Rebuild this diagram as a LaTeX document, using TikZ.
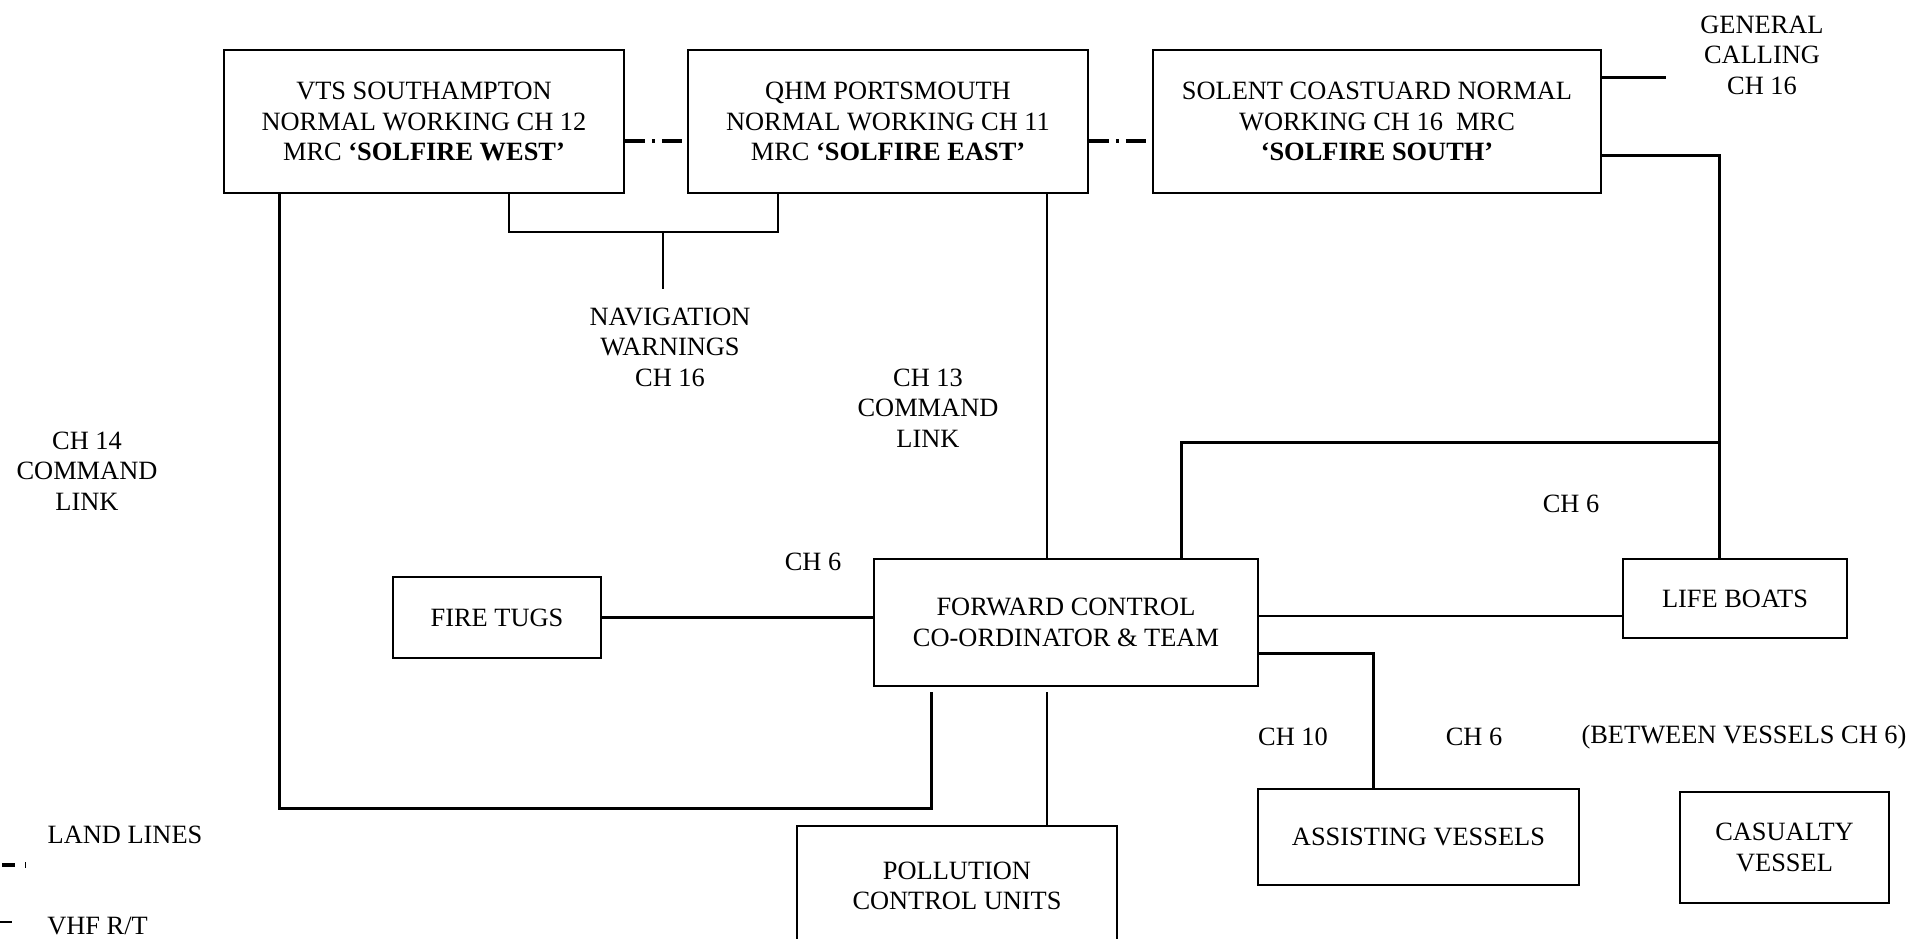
\documentclass[tikz,border=0pt]{standalone}
\usepackage{fontspec}
\setmainfont{Liberation Serif}
\newcommand{\diagfont}{\fontsize{13.2}{15.3}\selectfont}
\begin{document}
\begin{tikzpicture}[x=0.5pt,y=-0.5pt,
  box/.style={draw, line width=0.85pt, rectangle, inner sep=0pt, align=center, font=\diagfont},
  lbl/.style={inner sep=0pt, align=center, font=\diagfont},
  thinln/.style={line width=1pt},
  medln/.style={line width=1.25pt},
  thickln/.style={line width=1.5pt},
  landln/.style={line width=1.6pt, dash pattern=on 10pt off 3.5pt on 1.5pt off 3.5pt}]
\useasboundingbox (0,0) rectangle (1913,938);
\clip (0,0) rectangle (1913,938);

% boxes
\node[box, minimum width=200pt, minimum height=71.5pt] (vts) at (424,121.5)
  {VTS SOUTHAMPTON\\NORMAL WORKING CH 12\\MRC \textbf{‘SOLFIRE WEST’}};
\node[box, minimum width=200pt, minimum height=71.5pt] (qhm) at (888,121.5)
  {QHM PORTSMOUTH\\NORMAL WORKING CH 11\\MRC \textbf{‘SOLFIRE EAST’}};
\node[box, minimum width=224pt, minimum height=71.5pt] (sol) at (1377,121.5)
  {SOLENT COASTUARD NORMAL\\WORKING CH 16\ \ MRC\\\textbf{‘SOLFIRE SOUTH’}};
\node[box, minimum width=192pt, minimum height=63.5pt] (fwd) at (1066,622.5)
  {FORWARD CONTROL\\CO-ORDINATOR \& TEAM};
\node[box, minimum width=104pt, minimum height=40.5pt] (tugs) at (497,617.5) {FIRE TUGS};
\node[box, minimum width=112pt, minimum height=39.5pt] (lb) at (1735,598.5) {LIFE BOATS};
\node[box, minimum width=160.5pt, minimum height=48pt] (asst) at (1418.5,837) {ASSISTING VESSELS};
\node[box, minimum width=104.5pt, minimum height=55.5pt] (cas) at (1784.5,847.5) {CASUALTY\\VESSEL};
\node[box, minimum width=160pt, minimum height=60pt] (pol) at (957,886) {POLLUTION\\CONTROL UNITS};

% labels
\node[lbl] (gen) at (1762,55) {GENERAL\\CALLING\\CH 16};
\node[lbl] (nav) at (670,347) {NAVIGATION\\WARNINGS\\CH 16};
\node[lbl] (ch13) at (928,408) {CH 13\\COMMAND\\LINK};
\node[lbl] (ch14) at (87,471) {CH 14\\COMMAND\\LINK};
\node[lbl] (ch6a) at (813,562) {CH 6};
\node[lbl] (ch6b) at (1571,504) {CH 6};
\node[lbl] (ch10) at (1293,737) {CH 10};
\node[lbl] (ch6c) at (1474,737) {CH 6};
\node[lbl] (betw) at (1744,737) {(BETWEEN VESSELS CH 6)};
\node[lbl, anchor=base] (land) at (125,843) {LAND LINES};
\node[lbl, anchor=base] (vhf) at (97.5,934) {VHF R/T};

% helper coordinates
\coordinate (yLL) at (0,141);
\coordinate (yGC) at (0,77);
\coordinate (gcEnd) at (1666,77);
\coordinate (ySL) at (0,155);
\coordinate (jR) at (1719,442);
\coordinate (jL) at (1181,442);
\coordinate (xQ) at (1047,0);
\coordinate (brL) at (509,232);
\coordinate (brR) at (778,232);
\coordinate (stemTop) at (663,232);
\coordinate (stemEnd) at (663,289);
\coordinate (loopBL) at (279,808);
\coordinate (loopBR) at (931,808);
\coordinate (loopEnd) at (931,692);
\coordinate (polTop) at (1047,692);
\coordinate (yFL) at (0,616);
\coordinate (yFA) at (0,653);
\coordinate (xA) at (1373,0);

% connectors
\draw[landln] (vts.east |- yLL) -- (qhm.west |- yLL);
\draw[landln] (qhm.east |- yLL) -- (sol.west |- yLL);
\draw[thickln] (sol.east |- yGC) -- (gcEnd);
\draw[thickln] (sol.east |- ySL) -| (jR) -- (jR |- lb.north);
\draw[thickln] (jR) -- (jL) -- (jL |- fwd.north);
\draw[thinln] (brL |- vts.south) -- (brL) -- (brR) -- (brR |- qhm.south);
\draw[thinln] (stemTop) -- (stemEnd);
\draw[medln] (xQ |- qhm.south) -- (xQ |- fwd.north);
\draw[thickln] (loopBL |- vts.south) -- (loopBL) -- (loopBR) -- (loopEnd);
\draw[thinln] (polTop) -- (polTop |- pol.north);
\draw[thickln] (tugs.east) -- (fwd.west |- tugs.east);
\draw[thinln] (fwd.east |- yFL) -- (lb.west |- yFL);
\draw[thickln] (fwd.east |- yFA) -| (xA |- asst.north);

% legend symbols
\draw[line width=1.6pt] (2,865) -- (15,865);
\draw[line width=0.45pt] (25.5,862) -- (25.5,868);
\draw[line width=1.3pt] (0,922) -- (12,922);
\end{tikzpicture}
\end{document}
